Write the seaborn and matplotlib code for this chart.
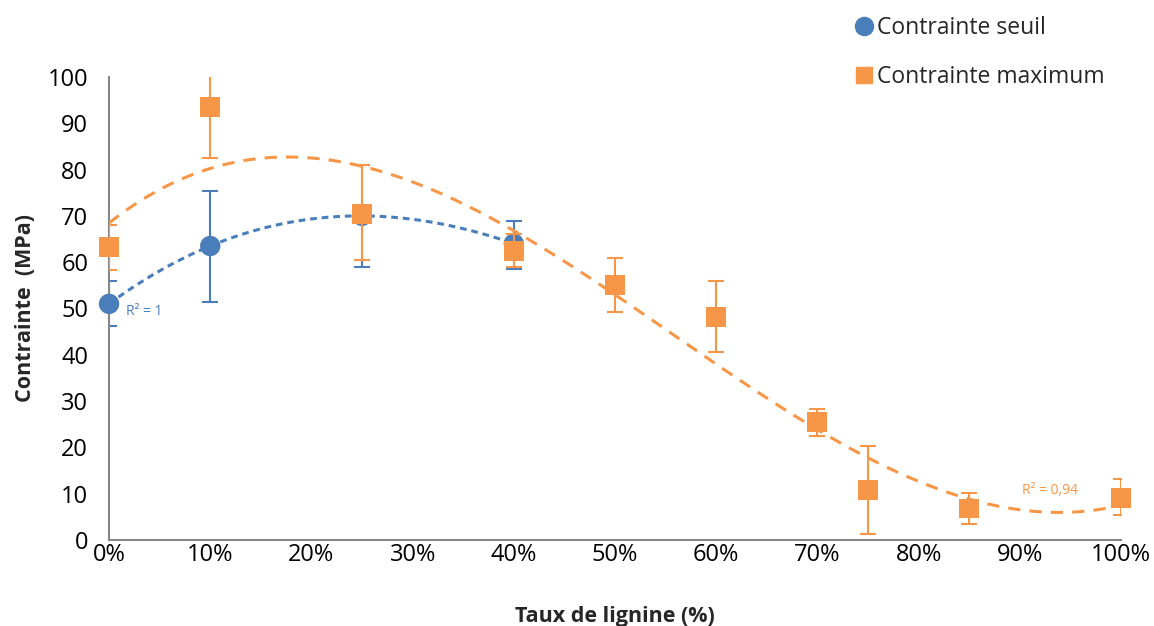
import numpy as np
import pandas as pd
import matplotlib
matplotlib.use("Agg")
import matplotlib.pyplot as plt
import seaborn as sns
from matplotlib.lines import Line2D

# ---- data ----
seuil_x = [0, 10, 25, 40]
seuil_y = [51.0, 63.5, 70.0, 64.0]
seuil_lo = [46.2, 51.5, 59.0, 58.5]
seuil_hi = [55.9, 75.4, 81.0, 69.0]

max_x = [0, 10, 25, 40, 50, 60, 70, 75, 85, 100]
max_y = [63.2, 93.5, 70.5, 62.5, 55.1, 48.2, 25.4, 10.8, 6.8, 9.1]
max_lo = [58.3, 82.5, 60.5, 59.0, 49.2, 40.5, 22.5, 1.4, 3.5, 5.4]
max_hi = [68.0, 104.5, 81.0, 66.0, 60.8, 56.0, 28.2, 20.2, 10.2, 13.2]

xticks = [0, 10, 20, 30, 40, 50, 60, 70, 80, 90, 100]
xticklabels = [f"{v}%" for v in xticks]
yticks = [0, 10, 20, 30, 40, 50, 60, 70, 80, 90, 100]

BLUE = "#4A7EBB"
ORANGE = "#F79646"
GRAY = "#868686"

sns.set_style("white")
plt.rcParams['font.family'] = ['Open Sans', 'DejaVu Sans']

fig = plt.figure(figsize=(11.54, 6.26), dpi=100)
ax = fig.add_axes([0.0945, 0.1374, 0.8769, 0.7396])

# trendlines (polynomial fits)
cs = np.polyfit(seuil_x, seuil_y, 3)
xs = np.linspace(0, 40, 200)
df_ts = pd.DataFrame({"x": xs, "y": np.polyval(cs, xs)})
cm = np.polyfit(max_x, max_y, 3)
xm = np.linspace(0, 100, 400)
df_tm = pd.DataFrame({"x": xm, "y": np.polyval(cm, xm)})

# error bars
eb1 = ax.errorbar(seuil_x, seuil_y,
            yerr=[np.array(seuil_y) - np.array(seuil_lo), np.array(seuil_hi) - np.array(seuil_y)],
            fmt="none", ecolor=BLUE, elinewidth=1.5, capsize=6, capthick=1.5, zorder=2)
eb2 = ax.errorbar(max_x, max_y,
            yerr=[np.array(max_y) - np.array(max_lo), np.array(max_hi) - np.array(max_y)],
            fmt="none", ecolor=ORANGE, elinewidth=1.5, capsize=6, capthick=1.5, zorder=4)

sns.lineplot(data=df_ts, x="x", y="y", ax=ax, color=BLUE, lw=2.2,
             linestyle=(0, (2.2, 1.6)), zorder=3)
sns.lineplot(data=df_tm, x="x", y="y", ax=ax, color=ORANGE, lw=2.2,
             linestyle=(0, (4, 3)), zorder=5)

df_s = pd.DataFrame({"x": seuil_x, "y": seuil_y})
df_m = pd.DataFrame({"x": max_x, "y": max_y})
sns.scatterplot(data=df_s, x="x", y="y", ax=ax, color=BLUE, marker="o", s=215,
                edgecolor="none", zorder=3, clip_on=False)
sns.scatterplot(data=df_m, x="x", y="y", ax=ax, color=ORANGE, marker="s", s=205,
                edgecolor="none", zorder=6, clip_on=False)

ax.set_xlim(0, 100)
ax.set_ylim(0, 100)
ax.set_xticks(xticks)
ax.set_xticklabels(xticklabels)
ax.set_yticks(yticks)
for s in ["top", "right"]:
    ax.spines[s].set_visible(False)
for s in ["left", "bottom"]:
    ax.spines[s].set_color(GRAY)
    ax.spines[s].set_linewidth(1.5)
ax.tick_params(axis="both", which="both", direction="in", length=6, width=1.5,
               color=GRAY, labelsize=17, labelcolor="black")
ax.tick_params(axis="y", pad=15)
ax.tick_params(axis="x", pad=2)
ax.grid(False)

ax.set_xlabel("Taux de lignine (%)", fontsize=15.5, fontweight="bold", labelpad=28)
ax.set_ylabel("Contrainte  (MPa)", fontsize=15.5, fontweight="bold", labelpad=8)

ax.text(1.7, 49.3, "R² = 1", color=BLUE, fontsize=10, va="center", ha="left")
ax.text(90.2, 10.7, "R² = 0,94", color=ORANGE, fontsize=10, va="center", ha="left")

handles = [Line2D([], [], marker="o", color=BLUE, ls="none", markersize=13),
           Line2D([], [], marker="s", color=ORANGE, ls="none", markersize=12)]
fig.legend(handles, ["Contrainte seuil", "Contrainte maximum"],
           loc="upper left", bbox_to_anchor=(0.724, 1.0), frameon=False,
           fontsize=16.5, labelspacing=1.1, handletextpad=0.0, handlelength=1.1,
           borderaxespad=0.3)

fig.savefig("out.png", dpi=100)
